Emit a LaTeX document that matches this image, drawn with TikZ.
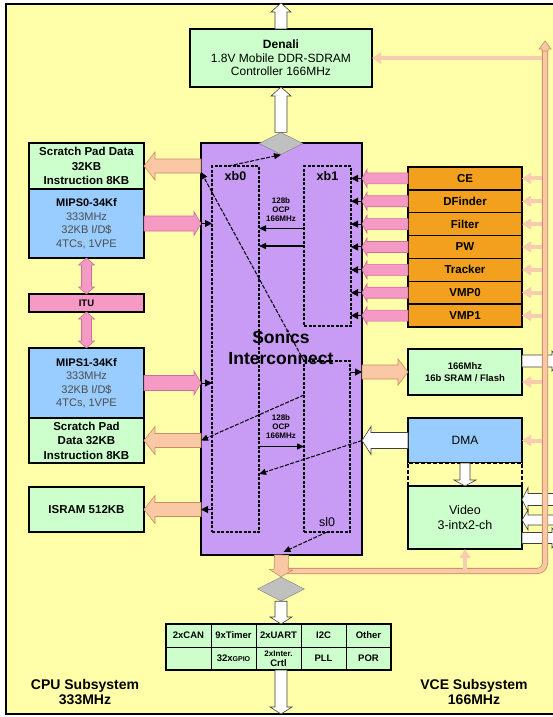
\documentclass[tikz,border=0pt]{standalone}
\usepackage{fontspec}
\setmainfont{Liberation Sans}
\usetikzlibrary{arrows.meta,positioning,shapes.geometric,calc}

\definecolor{bgyellow}{RGB}{255,255,170}
\definecolor{memgreen}{RGB}{204,255,204}
\definecolor{cpublue}{RGB}{153,204,255}
\definecolor{sonpurple}{RGB}{200,155,245}
\definecolor{vceorange}{RGB}{242,160,30}
\definecolor{linkpink}{RGB}{244,154,196}
\definecolor{pinkline}{RGB}{205,110,160}
\definecolor{linkpeach}{RGB}{250,200,165}
\definecolor{peachline}{RGB}{200,140,100}
\definecolor{feedpeach}{RGB}{248,205,175}
\definecolor{hubgray}{RGB}{192,192,192}

% block arrow: style, from, to, half shaft, half head, head length
\newcommand{\blockarr}[6]{%
  \path[#1] let \p1=(#2), \p2=(#3), \n1={atan2(\y2-\y1,\x2-\x1)},
    \n2={veclen(\x2-\x1,\y2-\y1)} in
    {[shift={(\p1)},rotate=\n1] (0,#4) -- (\n2-#6,#4) -- (\n2-#6,#5) -- (\n2,0)
    -- (\n2-#6,-#5) -- (\n2-#6,-#4) -- (0,-#4) -- cycle};}
\newcommand{\dblarr}[6]{%
  \path[#1] let \p1=(#2), \p2=(#3), \n1={atan2(\y2-\y1,\x2-\x1)},
    \n2={veclen(\x2-\x1,\y2-\y1)} in
    {[shift={(\p1)},rotate=\n1] (0,0) -- (#6,#5) -- (#6,#4) -- (\n2-#6,#4)
    -- (\n2-#6,#5) -- (\n2,0) -- (\n2-#6,-#5) -- (\n2-#6,-#4) -- (#6,-#4)
    -- (#6,-#5) -- cycle};}

\begin{document}
\begin{tikzpicture}[x=1pt,y=-1pt,
  box/.style={rectangle,draw=black,line width=1.5pt,align=center,inner sep=0pt,outer sep=0pt},
  mem/.style={box,fill=memgreen},
  cpu/.style={box,fill=cpublue,text=black!70,font=\fontsize{11}{13.5}\selectfont,minimum width=115pt},
  vce/.style={box,fill=vceorange,minimum width=114pt,minimum height=22.86pt,font=\fontsize{11.5}{13}\selectfont\bfseries},
  dbox/.style={draw=black,line width=1.2pt,dash pattern=on 3pt off 1.5pt,inner sep=0pt,outer sep=0pt},
  hub/.style={diamond,draw=gray,fill=hubgray,minimum width=44pt,minimum height=22pt,inner sep=0pt},
  cell/.style={rectangle,draw=black,line width=1pt,fill=memgreen,minimum width=45pt,minimum height=23pt,
    inner sep=0pt,outer sep=0pt,align=center,font=\fontsize{9.5}{9.5}\selectfont\bfseries},
  lbl/.style={font=\fontsize{12.5}{14}\selectfont\bfseries},
  ocp/.style={align=center,font=\fontsize{8}{9}\selectfont\bfseries},
  sub/.style={align=center,font=\fontsize{14}{15}\selectfont\bfseries},
  holl/.style={fill=white,draw=black!75,line width=0.6pt},
  peachblk/.style={fill=linkpeach,draw=peachline,line width=0.6pt},
  pinkblk/.style={fill=linkpink,draw=pinkline,line width=0.6pt},
  feed/.style={draw=feedpeach,line width=4pt,-{Triangle[width=11pt,length=9pt]}},
  busline/.style={draw=peachline,line width=0.8pt,double=linkpeach,double distance=4.5pt,rounded corners=8pt},
  pointer/.style={line width=1pt,-{Triangle[length=7pt,width=7pt]}},
  ocparr/.style={line width=1.3pt,-{Triangle[length=7pt,width=6pt]}},
  dsh/.style={line width=1pt,dash pattern=on 4pt off 1.5pt,-{Triangle[length=7pt,width=6pt]}}
]
\useasboundingbox (0,0) rectangle (553,717);
\clip (0,0) rectangle (553,717);
\fill[white] (0,0) rectangle (553,717);
\draw[fill=bgyellow,line width=1.5pt] (6,4) rectangle (562,714);

\coordinate (topout) at (281,3);
\coordinate (botout) at (281,714);
\coordinate (busx) at (545,0);
\coordinate (bustop) at (545,41);
\coordinate (buscorner) at (545,571);
\coordinate (rim) at (560,0);

\node[mem,minimum width=182pt,minimum height=58pt,font=\fontsize{12}{13.5}\selectfont] (denali) at (281,58)
  {\textbf{Denali}\\1.8V Mobile DDR-SDRAM\\Controller 166MHz};

% interconnect
\node[box,fill=sonpurple,minimum width=161pt,minimum height=412pt] (sonics) at (281.5,349) {};
\node[align=center,font=\fontsize{17.5}{21}\selectfont\bfseries] (sontxt) at (281,348) {Sonics\\Interconnect};
\node[ocp] (ocp0) at (281,210) {128b\\OCP\\166MHz};
\node[ocp] (ocp1) at (281,427) {128b\\OCP\\166MHz};
\node[dbox,minimum width=47pt,minimum height=366pt] (xb0) at (235.5,349) {};
\node[dbox,minimum width=47pt,minimum height=160pt] (xb1) at (327.5,246) {};
\node[dbox,minimum width=46pt,minimum height=171pt] (sl0) at (327,446.5) {};
\node[lbl,below=2pt of xb0.north] (xb0lbl) {xb0};
\node[lbl,below=2pt of xb1.north] (xb1lbl) {xb1};
\node[lbl,font=\fontsize{12.5}{14}\selectfont,above=2pt of sl0.south] (sl0lbl) {sl0};
\node[hub] (hubtop) at (281,143.5) {};

% CPU subsystem
\node[mem,minimum width=115pt,minimum height=46pt,font=\fontsize{11.5}{14.5}\selectfont\bfseries] (spad0) at (86.5,166)
  {Scratch Pad Data\\32KB\\Instruction 8KB};
\node[cpu,minimum height=69pt,below=0pt of spad0] (mips0)
  {\textcolor{black}{\textbf{MIPS0-34Kf}}\\333MHz\\32KB I/D\$\\4TCs, 1VPE};
\node[box,fill=linkpink,minimum width=115pt,minimum height=18pt,font=\fontsize{9.5}{10}\selectfont\bfseries] (itu) at (86.5,303) {ITU};
\node[cpu,minimum height=70pt] (mips1) at (86.5,383)
  {\textcolor{black}{\textbf{MIPS1-34Kf}}\\333MHz\\32KB I/D\$\\4TCs, 1VPE};
\node[mem,minimum width=115pt,minimum height=45pt,font=\fontsize{11.5}{14.5}\selectfont\bfseries,below=0pt of mips1] (spad1)
  {Scratch Pad\\Data 32KB\\Instruction 8KB};
\node[mem,minimum width=115pt,minimum height=45pt,font=\fontsize{11.5}{14}\selectfont\bfseries] (isram) at (86.5,509.5) {ISRAM 512KB};

% VCE subsystem
\node[vce] (ce) at (465,178.4) {CE};
\node[vce,below=0pt of ce] (dfinder) {DFinder};
\node[vce,below=0pt of dfinder] (filter) {Filter};
\node[vce,below=0pt of filter] (pw) {PW};
\node[vce,below=0pt of pw] (tracker) {Tracker};
\node[vce,below=0pt of tracker] (vmp0) {VMP0};
\node[vce,below=0pt of vmp0] (vmp1) {VMP1};
\node[mem,minimum width=114pt,minimum height=46pt,font=\fontsize{9.5}{12}\selectfont\bfseries] (sram) at (465,372)
  {166Mhz\\16b SRAM / Flash};
\node[box,fill=cpublue,minimum width=114pt,minimum height=45pt,font=\fontsize{12}{14}\selectfont] (dma) at (465,440.5) {DMA};
\node[box,fill=bgyellow,minimum width=114pt,minimum height=23pt,dash pattern=on 4pt off 2pt,
  preaction={draw=white,line width=1.5pt},below=0pt of dma] (gap) {};
\node[mem,minimum width=114pt,minimum height=63pt,font=\fontsize{12.5}{15}\selectfont,below=0pt of gap] (video)
  {Video\\3-intx2-ch};

% peripherals
\foreach \t [count=\i] in {2xCAN,9xTimer,2xUART,I2C,Other}
  \node[cell] (pa\i) at (143.5+45*\i,635.5) {\t};
\foreach \t [count=\i] in {{},{32x\fontsize{7}{7}\selectfont GPIO},{\fontsize{8}{9}\selectfont 2xInter.\\Crtl},PLL,POR}
  \node[cell] (pb\i) at (143.5+45*\i,658.5) {\t};
\draw[line width=1.8pt] (pa1.north west) rectangle (pb5.south east);
\node[hub,minimum width=47pt,minimum height=24pt] (hubbot) at (281,589) {};

\node[sub] (cpulbl) at (85,692) {CPU Subsystem\\333MHz};
\node[sub] (vcelbl) at (474,692) {VCE Subsystem\\166MHz};

% memory path
\blockarr{holl}{denali.north}{topout}{6}{10}{9}
\blockarr{holl}{hubtop.north}{denali.south}{6}{10}{9}
\draw[feed] (denali.east -| busx) -- (denali.east);

% cpu links
\blockarr{peachblk}{sonics.west |- spad0.east}{spad0.east}{7}{14}{11}
\blockarr{pinkblk}{mips0.east}{sonics.west |- mips0.east}{7.5}{12}{7}
\dblarr{pinkblk}{mips0.south}{itu.north}{5}{8}{7}
\dblarr{pinkblk}{itu.south}{mips1.north}{5}{8}{7}
\blockarr{pinkblk}{mips1.east}{sonics.west |- mips1.east}{7.5}{12}{7}
\blockarr{peachblk}{sonics.west |- spad1.east}{spad1.east}{7}{14}{11}
\blockarr{peachblk}{sonics.west |- isram.east}{isram.east}{7}{14}{11}
\draw[pointer] (sonics.west |- mips0.east) -- (xb0.west |- mips0.east);
\draw[pointer] (sonics.west |- mips1.east) -- (xb0.west |- mips1.east);
\draw[pointer] (xb0.west |- isram.east) -- (sonics.west |- isram.east);

% vce links
\foreach \v in {ce,dfinder,filter,pw,tracker,vmp0,vmp1} {
  \blockarr{pinkblk}{\v.west}{sonics.east |- \v.west}{5.5}{9}{5}
  \draw[pointer] (sonics.east |- \v.west) -- (xb1.east |- \v.west);
  \draw[feed] (busx |- \v.east) -- (\v.east);
}
\blockarr{peachblk}{sonics.east |- sram.west}{sram.west}{7}{13}{10}
\draw[pointer] (sl0.east |- sram.west) -- (sonics.east |- sram.west);
\draw[feed] ($(busx |- sram.east)+(0,10)$) -- ($(sram.east)+(0,10)$);
\blockarr{holl}{$(sram.east)+(0,-11)$}{$(sram.east -| rim)+(0,-11)$}{6}{10}{8}
\blockarr{holl}{dma.west}{sonics.east |- dma.west}{8}{14}{9}
\draw[feed] (busx |- dma.east) -- (dma.east);
\blockarr{holl}{dma.south}{video.north}{5}{11}{6}
\blockarr{holl}{$(video.east -| rim)+(0,-18)$}{$(video.east)+(0,-18)$}{6}{12}{6}
\blockarr{holl}{$(video.east -| rim)+(0,2.5)$}{$(video.east)+(0,2.5)$}{5}{10}{6}
\blockarr{holl}{$(video.east)+(0,20.5)$}{$(video.east -| rim)+(0,20.5)$}{5.5}{10}{8}

% inside the interconnect
\coordinate (oa) at ($(xb1.north west)!0.39!(xb1.south west)$);
\draw[ocparr] (oa) -- (xb0.east |- oa);
\draw[ocparr] (xb1.west) -- (xb1.west -| xb0.east);
\draw[ocparr] (xb0.east |- sl0.west) -- (sl0.west);
\draw[dsh] ([xshift=-7pt]xb0.north) -- (hubtop.south);
\draw[dsh] (sl0.north west) -- ($(sonics.west |- spad0.east)+(0,6)$);
\draw[dsh] ($(sl0.north west)+(0,34)$) -- (sonics.west |- spad1.east);
\draw[dsh] (sonics.east |- dma.west) -- ($(xb0.east)+(0,125)$);
\draw[dsh] (sl0.south) -- ($(sonics.south)+(2,-3)$);

% bus and peripherals
\draw[busline] ($(sonics.south |- buscorner)+(5,0)$) -- (buscorner) -- ($(bustop)+(0,9)$);
\blockarr{peachblk}{$(bustop)+(0,10)$}{bustop}{3.05}{6}{8}
\draw[feed] (video.south |- buscorner) -- (video.south);
\blockarr{peachblk}{sonics.south}{hubbot.north}{7}{11.5}{7}
\blockarr{holl}{hubbot.south}{hubbot.south |- pa3.north}{6}{11}{7}
\blockarr{holl}{hubbot.south |- pb3.south}{botout}{6}{11}{7}
\end{tikzpicture}
\end{document}
